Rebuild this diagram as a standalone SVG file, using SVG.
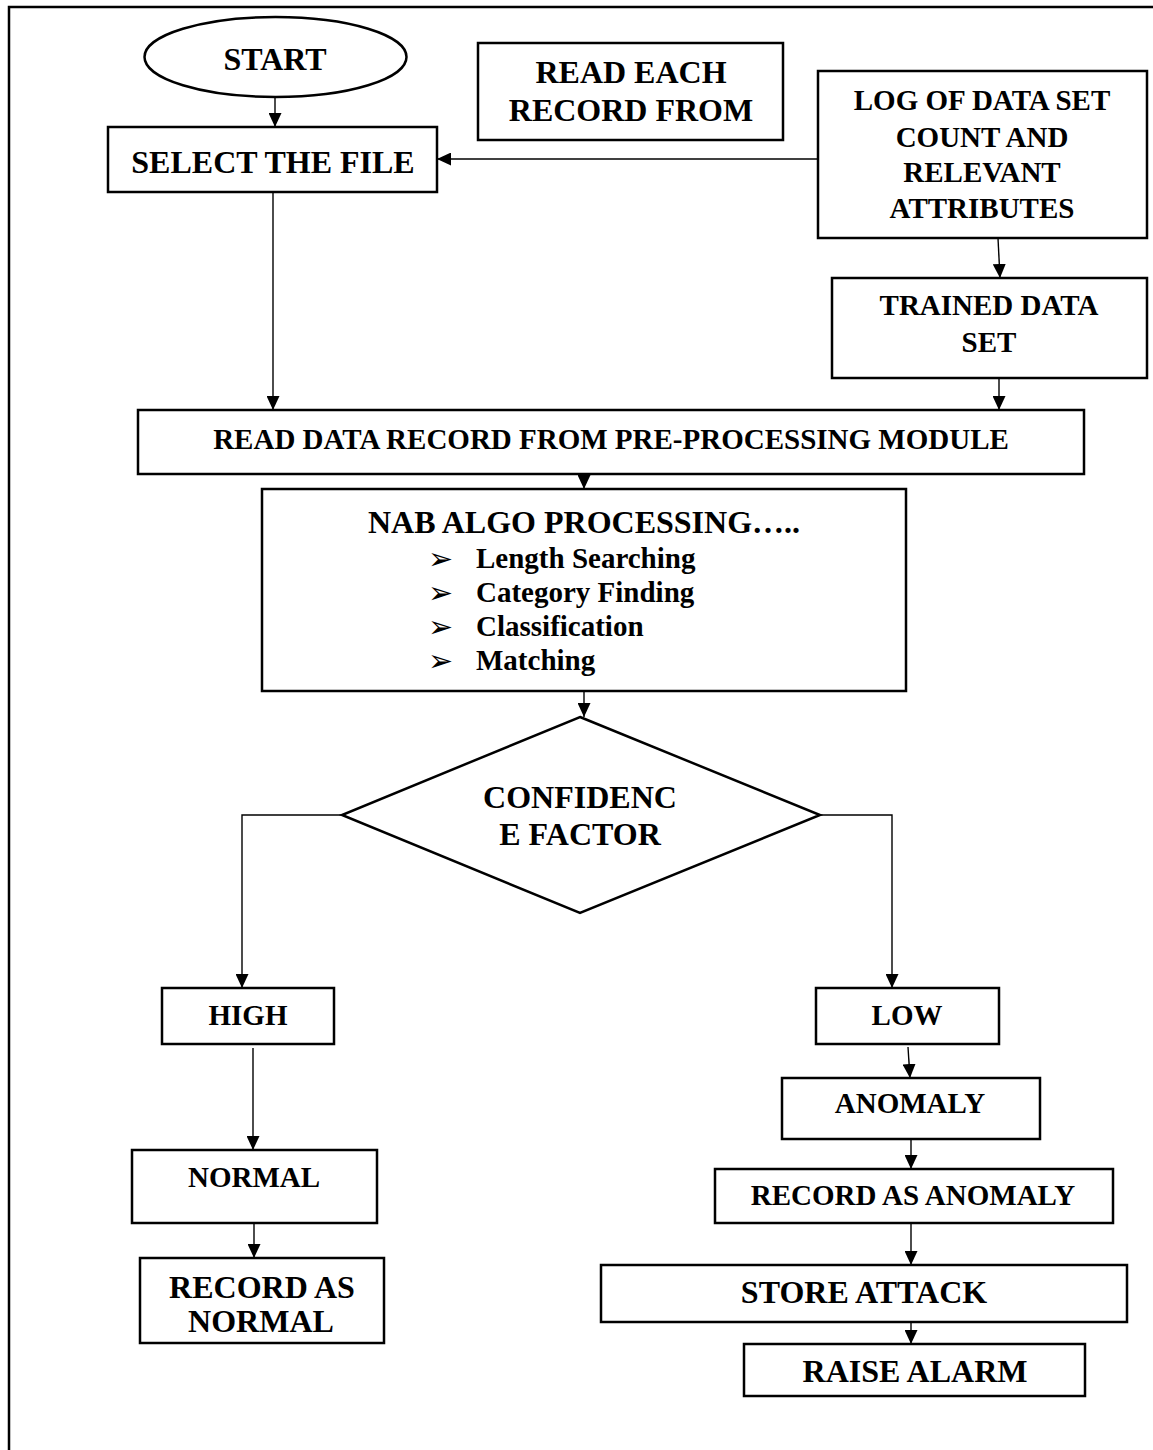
<svg xmlns="http://www.w3.org/2000/svg" width="1153" height="1450" viewBox="0 0 1153 1450">
<style>
.bg{fill:#fff}
.box{fill:#fff;stroke:#000;stroke-width:2.5}
.frame{fill:none;stroke:#000;stroke-width:2.5}
.con{fill:none;stroke:#000;stroke-width:1.4}
text{font-family:"Liberation Serif","Times New Roman",serif;font-weight:bold;fill:#000}
.c{text-anchor:middle}
.f32{font-size:32px}
.f29{font-size:29px}
.blt{font-family:"DejaVu Sans",sans-serif;font-weight:normal;font-size:30px}
</style>
<defs>
<marker id="ah" markerUnits="userSpaceOnUse" markerWidth="14" markerHeight="13" refX="14" refY="6.5" orient="auto">
<path d="M0,0 L14,6.5 L0,13 Z" fill="#000"/>
</marker>
</defs>
<rect class="bg" x="0" y="0" width="1153" height="1450"/>
<path class="frame" d="M9,1450 V7 H1153"/>

<g id="connectors">
<line class="con" x1="275" y1="97" x2="275" y2="127" marker-end="url(#ah)"/>
<line class="con" x1="818" y1="159" x2="437" y2="159" marker-end="url(#ah)"/>
<line class="con" x1="998" y1="238" x2="1000" y2="278" marker-end="url(#ah)"/>
<line class="con" x1="273" y1="192" x2="273" y2="410" marker-end="url(#ah)"/>
<line class="con" x1="999" y1="378" x2="999" y2="410" marker-end="url(#ah)"/>
<line class="con" x1="584" y1="474" x2="584" y2="489" marker-end="url(#ah)"/>
<line class="con" x1="584" y1="691" x2="584" y2="717" marker-end="url(#ah)"/>
<path class="con" d="M342,815 H242 V988" marker-end="url(#ah)"/>
<path class="con" d="M820,815 H892 V988" marker-end="url(#ah)"/>
<line class="con" x1="253" y1="1048" x2="253" y2="1150" marker-end="url(#ah)"/>
<line class="con" x1="254" y1="1223" x2="254" y2="1258" marker-end="url(#ah)"/>
<line class="con" x1="908" y1="1047" x2="910" y2="1078" marker-end="url(#ah)"/>
<line class="con" x1="911" y1="1139" x2="911" y2="1169" marker-end="url(#ah)"/>
<line class="con" x1="911" y1="1223" x2="911" y2="1265" marker-end="url(#ah)"/>
<line class="con" x1="911" y1="1322" x2="911" y2="1344" marker-end="url(#ah)"/>
</g>

<g id="start">
<ellipse class="box" cx="275.5" cy="57" rx="131" ry="40"/>
<text class="c f32" x="275" y="70">START</text>
</g>
<g id="select-file">
<rect class="box" x="108" y="127" width="329" height="65"/>
<text class="c f32" x="273" y="173">SELECT THE FILE</text>
</g>
<g id="read-each">
<rect class="box" x="478" y="43" width="305" height="97"/>
<text class="c f32" x="631" y="83">READ EACH</text>
<text class="c f32" x="631" y="121">RECORD FROM</text>
</g>
<g id="log-data">
<rect class="box" x="818" y="71" width="329" height="167"/>
<text class="c f29" x="982" y="110">LOG OF DATA SET</text>
<text class="c f29" x="982" y="147">COUNT AND</text>
<text class="c f29" x="982" y="182">RELEVANT</text>
<text class="c f29" x="982" y="218">ATTRIBUTES</text>
</g>
<g id="trained">
<rect class="box" x="832" y="278" width="315" height="100"/>
<text class="c f29" x="989" y="315">TRAINED DATA</text>
<text class="c f29" x="989" y="352">SET</text>
</g>
<g id="read-data">
<rect class="box" x="138" y="410" width="946" height="64"/>
<text class="c f29" x="611" y="449">READ DATA RECORD FROM PRE-PROCESSING MODULE</text>
</g>
<g id="nab">
<rect class="box" x="262" y="489" width="644" height="202"/>
<text class="c f32" x="584" y="533">NAB ALGO PROCESSING…..</text>
<text class="blt" x="428" y="569">➢</text>
<text class="f29" x="476" y="568">Length Searching</text>
<text class="blt" x="428" y="603">➢</text>
<text class="f29" x="476" y="602">Category Finding</text>
<text class="blt" x="428" y="637">➢</text>
<text class="f29" x="476" y="636">Classification</text>
<text class="blt" x="428" y="671">➢</text>
<text class="f29" x="476" y="670">Matching</text>
</g>
<g id="confidence">
<polygon class="box" points="580,717 820,815 580,913 342,815"/>
<text class="c f32" x="580" y="808">CONFIDENC</text>
<text class="c f32" x="580" y="845">E FACTOR</text>
</g>
<g id="high">
<rect class="box" x="162" y="988" width="172" height="56"/>
<text class="c f29" x="248" y="1025">HIGH</text>
</g>
<g id="normal">
<rect class="box" x="132" y="1150" width="245" height="73"/>
<text class="c f29" x="254" y="1187">NORMAL</text>
</g>
<g id="record-normal">
<rect class="box" x="140" y="1258" width="244" height="85"/>
<text class="c f32" x="262" y="1298">RECORD AS</text>
<text class="c f32" x="261" y="1332">NORMAL</text>
</g>
<g id="low">
<rect class="box" x="816" y="988" width="183" height="56"/>
<text class="c f29" x="907" y="1025">LOW</text>
</g>
<g id="anomaly">
<rect class="box" x="782" y="1078" width="258" height="61"/>
<text class="c f29" x="910" y="1113">ANOMALY</text>
</g>
<g id="record-anomaly">
<rect class="box" x="715" y="1169" width="398" height="54"/>
<text class="c f29" x="913" y="1205">RECORD AS ANOMALY</text>
</g>
<g id="store-attack">
<rect class="box" x="601" y="1265" width="526" height="57"/>
<text class="c f32" x="864" y="1303">STORE ATTACK</text>
</g>
<g id="raise-alarm">
<rect class="box" x="744" y="1344" width="341" height="52"/>
<text class="c f32" x="915" y="1382">RAISE ALARM</text>
</g>
</svg>
